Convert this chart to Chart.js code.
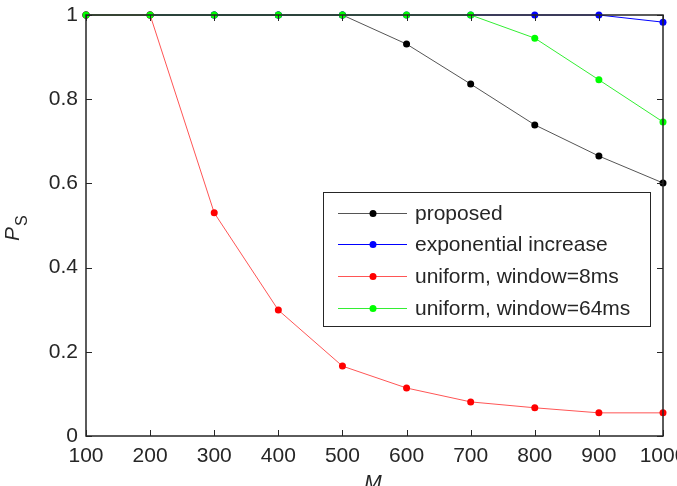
<!DOCTYPE html>
<html>
<head>
<meta charset="utf-8">
<script src="https://cdn.jsdelivr.net/npm/chart.js@4.4.0/dist/chart.umd.min.js"></script>
<style>
  html, body { margin: 0; padding: 0; background: #fff; }
</style>
</head>
<body>
<canvas id="chart-ps" width="677" height="486"></canvas>
<script>
const mValues = [100, 200, 300, 400, 500, 600, 700, 800, 900, 1000];
const seriesNames = ['proposed', 'exponential increase', 'uniform, window=8ms', 'uniform, window=64ms'];
const proposed = [1, 1, 1, 1, 1, 0.931, 0.836, 0.739, 0.665, 0.601];
const exponentialIncrease = [1, 1, 1, 1, 1, 1, 1, 1, 1, 0.983];
const uniform8ms = [1, 1, 0.530, 0.299, 0.166, 0.114, 0.081, 0.067, 0.055, 0.055];
const uniform64ms = [1, 1, 1, 1, 1, 1, 1, 0.945, 0.846, 0.746];
const xTicks = [100, 200, 300, 400, 500, 600, 700, 800, 900, 1000];
const yTicks = [0, 0.2, 0.4, 0.6, 0.8, 1];

const colors = ['#000000', '#0000ff', '#ff0000', '#00ff00'];
const lineColors = ['#555555', '#0000ff', '#ff5555', '#33ee33'];
const FAMILY = '"Liberation Sans", Arial, sans-serif';
const FONT = '21px ' + FAMILY;

function toPoints(arr) {
    return arr.map(function (v, i) { return { x: mValues[i], y: v }; });
}

function makeSet(idx, arr, order) {
    return {
        label: seriesNames[idx],
        data: toPoints(arr),
        borderColor: lineColors[idx],
        backgroundColor: colors[idx],
        pointBackgroundColor: colors[idx],
        pointBorderColor: colors[idx],
        pointRadius: 3.5,
        pointBorderWidth: 0,
        borderWidth: 1,
        tension: 0,
        clip: false,
        order: order
    };
}

// axes box, inward ticks, axis titles and the legend
const matlabLook = {
    id: 'matlabLook',
    afterDatasetsDraw(chart) {
        const ctx = chart.ctx;
        const a = chart.chartArea;
        const xs = chart.scales.x, ys = chart.scales.y;
        ctx.save();
        ctx.strokeStyle = '#262626';
        ctx.lineWidth = 1;
        // ticks
        ctx.beginPath();
        xTicks.forEach(function (t) {
            const px = Math.round(xs.getPixelForValue(t)) + 0.5;
            ctx.moveTo(px, a.bottom); ctx.lineTo(px, a.bottom - 6);
            ctx.moveTo(px, a.top); ctx.lineTo(px, a.top + 6);
        });
        yTicks.forEach(function (t) {
            const py = Math.round(ys.getPixelForValue(t)) + 0.5;
            ctx.moveTo(a.left, py); ctx.lineTo(a.left + 6, py);
            ctx.moveTo(a.right, py); ctx.lineTo(a.right - 6, py);
        });
        ctx.stroke();
        ctx.lineWidth = 1.5;
        ctx.strokeRect(a.left, a.top, a.right - a.left, a.bottom - a.top);

        // axis titles
        ctx.fillStyle = '#262626';
        ctx.font = 'italic ' + FONT;
        ctx.textAlign = 'center';
        ctx.textBaseline = 'top';
        ctx.fillText('M', 373, 473);
        ctx.save();
        ctx.translate(13, 241);
        ctx.rotate(-Math.PI / 2);
        ctx.textAlign = 'left';
        ctx.textBaseline = 'middle';
        ctx.fillText('P', 0, 0);
        ctx.font = '16px ' + FAMILY;
        ctx.fillText('S', 15, 10);
        ctx.restore();

        // legend
        const lx = 323, ly = 192, lw = 327, lh = 134;
        ctx.fillStyle = '#ffffff';
        ctx.fillRect(lx, ly, lw, lh);
        ctx.strokeStyle = '#262626';
        ctx.lineWidth = 1;
        ctx.strokeRect(lx + 0.5, ly + 0.5, lw, lh);
        const rows = [213, 244, 276, 308];
        ctx.font = FONT;
        ctx.textAlign = 'left';
        ctx.textBaseline = 'middle';
        chart.data.datasets.forEach(function (ds, i) {
            const y = rows[i];
            ctx.strokeStyle = ds.borderColor;
            ctx.beginPath();
            ctx.moveTo(338, y + 0.5); ctx.lineTo(407, y + 0.5);
            ctx.stroke();
            ctx.fillStyle = ds.pointBackgroundColor;
            ctx.beginPath();
            ctx.arc(373, y + 0.5, 3.5, 0, Math.PI * 2);
            ctx.fill();
            ctx.fillStyle = '#262626';
            ctx.fillText(ds.label, 415, y + 1);
        });
        ctx.restore();
    }
};

new Chart(document.getElementById('chart-ps'), {
    type: 'line',
    data: {
        datasets: [
            makeSet(0, proposed, 3),
            makeSet(1, exponentialIncrease, 2),
            makeSet(2, uniform8ms, 1),
            makeSet(3, uniform64ms, 0)
        ]
    },
    options: {
        responsive: false,
        animation: false,
        layout: { padding: { top: 15, right: 14, left: 0, bottom: 0 } },
        plugins: { legend: { display: false }, tooltip: { enabled: false } },
        scales: {
            x: {
                type: 'linear',
                min: 100, max: 1000,
                afterBuildTicks: function (s) { s.ticks = xTicks.map(function (v) { return { value: v }; }); },
                afterFit: function (s) { s.height = 50; s.paddingRight = 0; s.paddingLeft = 0; },
                grid: { display: false, drawTicks: false },
                border: { display: false },
                ticks: {
                    autoSkip: false, maxRotation: 0, minRotation: 0,
                    padding: 8, color: '#262626',
                    callback: function (v) { return String(v); },
                    font: { family: FAMILY, size: 21 }
                }
            },
            y: {
                min: 0, max: 1,
                afterBuildTicks: function (s) { s.ticks = yTicks.map(function (v) { return { value: v }; }); },
                afterFit: function (s) { s.width = 86; s.paddingTop = 0; s.paddingBottom = 0; },
                grid: { display: false, drawTicks: false },
                border: { display: false },
                ticks: {
                    padding: 8, color: '#262626',
                    callback: function (v) { return String(v); },
                    font: { family: FAMILY, size: 21 }
                }
            }
        }
    },
    plugins: [matlabLook]
});
</script>
</body>
</html>
